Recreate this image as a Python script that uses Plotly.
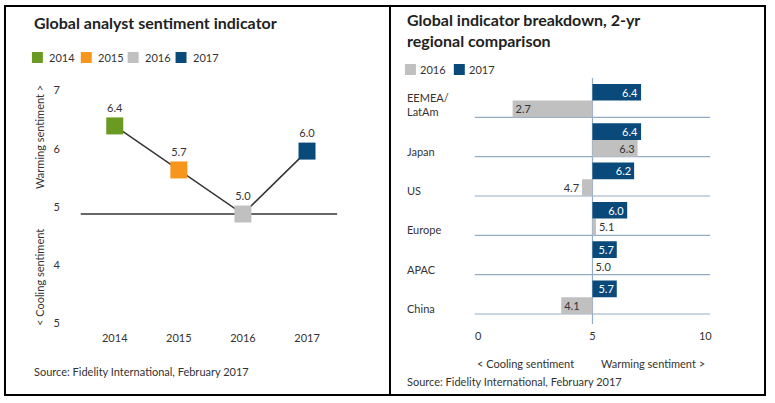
import plotly.graph_objects as go

# ---------------- data ----------------
years = ["2014", "2015", "2016", "2017"]
sentiment = [6.4, 5.7, 5.0, 6.0]
year_colors = ["#6a9a22", "#f7961c", "#c0c0c0", "#0a4a7a"]
left_ytick_text = ["5", "4", "5", "6", "7"]
left_ytick_vals = [3.27, 4.19, 5.11, 6.03, 6.97]

regions = ["EEMEA/<br>LatAm", "Japan", "US", "Europe", "APAC", "China"]
val_2016 = [2.7, 6.3, 4.7, 5.1, 5.0, 4.1]
val_2017 = [6.4, 6.4, 6.2, 6.0, 5.7, 5.7]
bar_years = ["2016", "2017"]
bar_colors = ["#c0c0c0", "#0a4a7a"]
right_xtick_text = ["0", "5", "10"]
right_xtick_vals = [1.71, 5, 8.25]
neutral = 5

left_title = "Global analyst sentiment indicator"
right_title = "Global indicator breakdown, 2-yr<br>regional comparison"
source = "Source: Fidelity International, February 2017"

# ---------------- helpers ----------------
W, H = 775, 403
FONT = "Lato"
TXT = "#333333"
GRID = "#93adc6"


def px(x):
    return x / W


def py(y):
    return 1 - y / H


fig = go.Figure()

# left chart: line + square markers
fig.add_trace(go.Scatter(
    x=years, y=sentiment, mode="lines+markers+text",
    text=[f"{v:.1f}" for v in sentiment], textposition="top center",
    textfont=dict(size=11, color=TXT, family=FONT),
    marker=dict(symbol="square", size=17, color=year_colors, line=dict(width=0)),
    line=dict(color="#333333", width=1.5),
    cliponaxis=False, showlegend=False, xaxis="x", yaxis="y", hoverinfo="skip",
))

# right chart: bars from neutral 5
order = regions[::-1]
v16 = val_2016[::-1]
v17 = val_2017[::-1]
pos16 = ["inside" if abs(v - neutral) >= 0.8 else "outside" for v in v16]
fig.add_trace(go.Bar(
    y=order, x=[v - neutral for v in v16], base=neutral, orientation="h",
    marker=dict(color=bar_colors[0], line=dict(width=0)),
    offset=-0.5, width=0.425,
    text=[f"{v:.1f}" for v in v16], textposition=pos16, insidetextanchor="end",
    constraintext="none",
    textfont=dict(size=11, color=TXT, family=FONT),
    outsidetextfont=dict(size=11, color=TXT, family=FONT),
    insidetextfont=dict(size=11, color=TXT, family=FONT),
    cliponaxis=False, showlegend=False, xaxis="x2", yaxis="y2", hoverinfo="skip",
))
fig.add_trace(go.Bar(
    y=order, x=[v - neutral for v in v17], base=neutral, orientation="h",
    marker=dict(color=bar_colors[1], line=dict(width=0)),
    offset=-0.075, width=0.425,
    text=[f"{v:.1f}" for v in v17], textposition="inside", insidetextanchor="end",
    constraintext="none",
    insidetextfont=dict(size=11, color="white", family=FONT),
    cliponaxis=False, showlegend=False, xaxis="x2", yaxis="y2", hoverinfo="skip",
))

shapes = []
annotations = []

# outer frame and divider
shapes.append(dict(type="rect", xref="paper", yref="paper",
                   x0=px(5), x1=px(767), y0=py(395), y1=py(6),
                   line=dict(color="black", width=2)))
shapes.append(dict(type="line", xref="paper", yref="paper",
                   x0=px(391), x1=px(391), y0=py(395), y1=py(6),
                   line=dict(color="black", width=2)))

# left neutral line
shapes.append(dict(type="line", xref="x domain", yref="y", x0=0, x1=1,
                   y0=neutral, y1=neutral, line=dict(color="#333333", width=1.5),
                   layer="below"))
# right neutral vertical line
shapes.append(dict(type="line", xref="x2", yref="y2 domain", x0=neutral, x1=neutral,
                   y0=0, y1=1, line=dict(color=GRID, width=1.2), layer="below"))
# right separators + region labels
for i, r in enumerate(order):
    shapes.append(dict(type="line", xref="x2 domain", yref="y2", x0=0, x1=1,
                       y0=i - 0.5, y1=i - 0.5, line=dict(color=GRID, width=1.2),
                       layer="below"))
    annotations.append(dict(text=r, xref="paper", yref="y2", x=px(406), y=i - 0.5,
                            xanchor="left", yanchor="bottom", yshift=-3, align="left",
                            showarrow=False, font=dict(size=11, color=TXT, family=FONT)))

# titles
annotations.append(dict(text=f"<b>{left_title}</b>", xref="paper", yref="paper",
                        x=px(32), y=py(23), xanchor="left", yanchor="middle",
                        showarrow=False, font=dict(size=16, color="#222222", family=FONT)))
annotations.append(dict(text=f"<b>{right_title}</b>", xref="paper", yref="paper",
                        x=px(406), y=py(30), xanchor="left", yanchor="middle", align="left",
                        showarrow=False, font=dict(size=16, color="#222222", family=FONT)))

# legends (manual)
left_leg_x = [32, 81, 128, 176]
for xx, lab, col in zip(left_leg_x, years, year_colors):
    shapes.append(dict(type="rect", xref="paper", yref="paper",
                       x0=px(xx), x1=px(xx + 11), y0=py(63), y1=py(52),
                       fillcolor=col, line=dict(width=0)))
    annotations.append(dict(text=lab, xref="paper", yref="paper", x=px(xx + 15), y=py(57.5),
                            xanchor="left", yanchor="middle", showarrow=False,
                            font=dict(size=11, color=TXT, family=FONT)))
right_leg_x = [406, 455]
for xx, lab, col in zip(right_leg_x, bar_years, bar_colors):
    shapes.append(dict(type="rect", xref="paper", yref="paper",
                       x0=px(xx), x1=px(xx + 11), y0=py(75), y1=py(64),
                       fillcolor=col, line=dict(width=0)))
    annotations.append(dict(text=lab, xref="paper", yref="paper", x=px(xx + 13), y=py(69.5),
                            xanchor="left", yanchor="middle", showarrow=False,
                            font=dict(size=11, color=TXT, family=FONT)))

# left y-axis titles (rotated)
annotations.append(dict(text="Warming sentiment >", xref="paper", yref="paper",
                        x=px(39), y=py(137), textangle=-90, showarrow=False,
                        xanchor="center", yanchor="middle",
                        font=dict(size=11, color=TXT, family=FONT)))
annotations.append(dict(text="< Cooling sentiment", xref="paper", yref="paper",
                        x=px(39), y=py(277), textangle=-90, showarrow=False,
                        xanchor="center", yanchor="middle",
                        font=dict(size=11, color=TXT, family=FONT)))

# right x-axis captions
annotations.append(dict(text="< Cooling sentiment", xref="paper", yref="paper",
                        x=px(476), y=py(363), xanchor="left", yanchor="middle",
                        showarrow=False, font=dict(size=11, color=TXT, family=FONT)))
annotations.append(dict(text="Warming sentiment >", xref="paper", yref="paper",
                        x=px(655), y=py(363), xanchor="center", yanchor="middle",
                        showarrow=False, font=dict(size=11, color=TXT, family=FONT)))

# sources
annotations.append(dict(text=source, xref="paper", yref="paper", x=px(32), y=py(371),
                        xanchor="left", yanchor="middle", showarrow=False,
                        font=dict(size=11, color=TXT, family=FONT)))
annotations.append(dict(text=source, xref="paper", yref="paper", x=px(406), y=py(381),
                        xanchor="left", yanchor="middle", showarrow=False,
                        font=dict(size=11, color=TXT, family=FONT)))

fig.update_layout(
    width=W, height=H, margin=dict(l=0, r=0, t=0, b=0),
    paper_bgcolor="white", plot_bgcolor="white",
    font=dict(family=FONT, size=11, color=TXT),
    barmode="overlay", showlegend=False,
    shapes=shapes, annotations=annotations,
    xaxis=dict(domain=[px(81), px(338)], range=[-0.53, 3.47], type="category",
               categoryorder="array", categoryarray=years,
               showgrid=False, zeroline=False, showline=False, ticks="",
               ticklabelstandoff=0, tickfont=dict(size=11, color=TXT, family=FONT)),
    yaxis=dict(domain=[py(330), py(80)], range=[3.156, 7.13],
               tickvals=left_ytick_vals, ticktext=left_ytick_text,
               showgrid=False, zeroline=False, showline=False, ticks="",
               ticklabelstandoff=20, tickfont=dict(size=11, color=TXT, family=FONT)),
    xaxis2=dict(domain=[px(476), px(712)], range=[1.61, 8.39], anchor="y2",
                tickvals=right_xtick_vals, ticktext=right_xtick_text,
                showgrid=False, zeroline=False, showline=False, ticks="",
                ticklabelstandoff=4, tickfont=dict(size=11, color=TXT, family=FONT)),
    yaxis2=dict(domain=[py(324), py(78)], range=[-0.754, 5.5], anchor="x2",
                type="category", categoryorder="array", categoryarray=order,
                showgrid=False, zeroline=False, showline=False, ticks="",
                showticklabels=False),
)

fig.write_html("out.html", config={"displayModeBar": False},
               post_script="document.body.style.margin='0';document.body.style.overflow='hidden';")
